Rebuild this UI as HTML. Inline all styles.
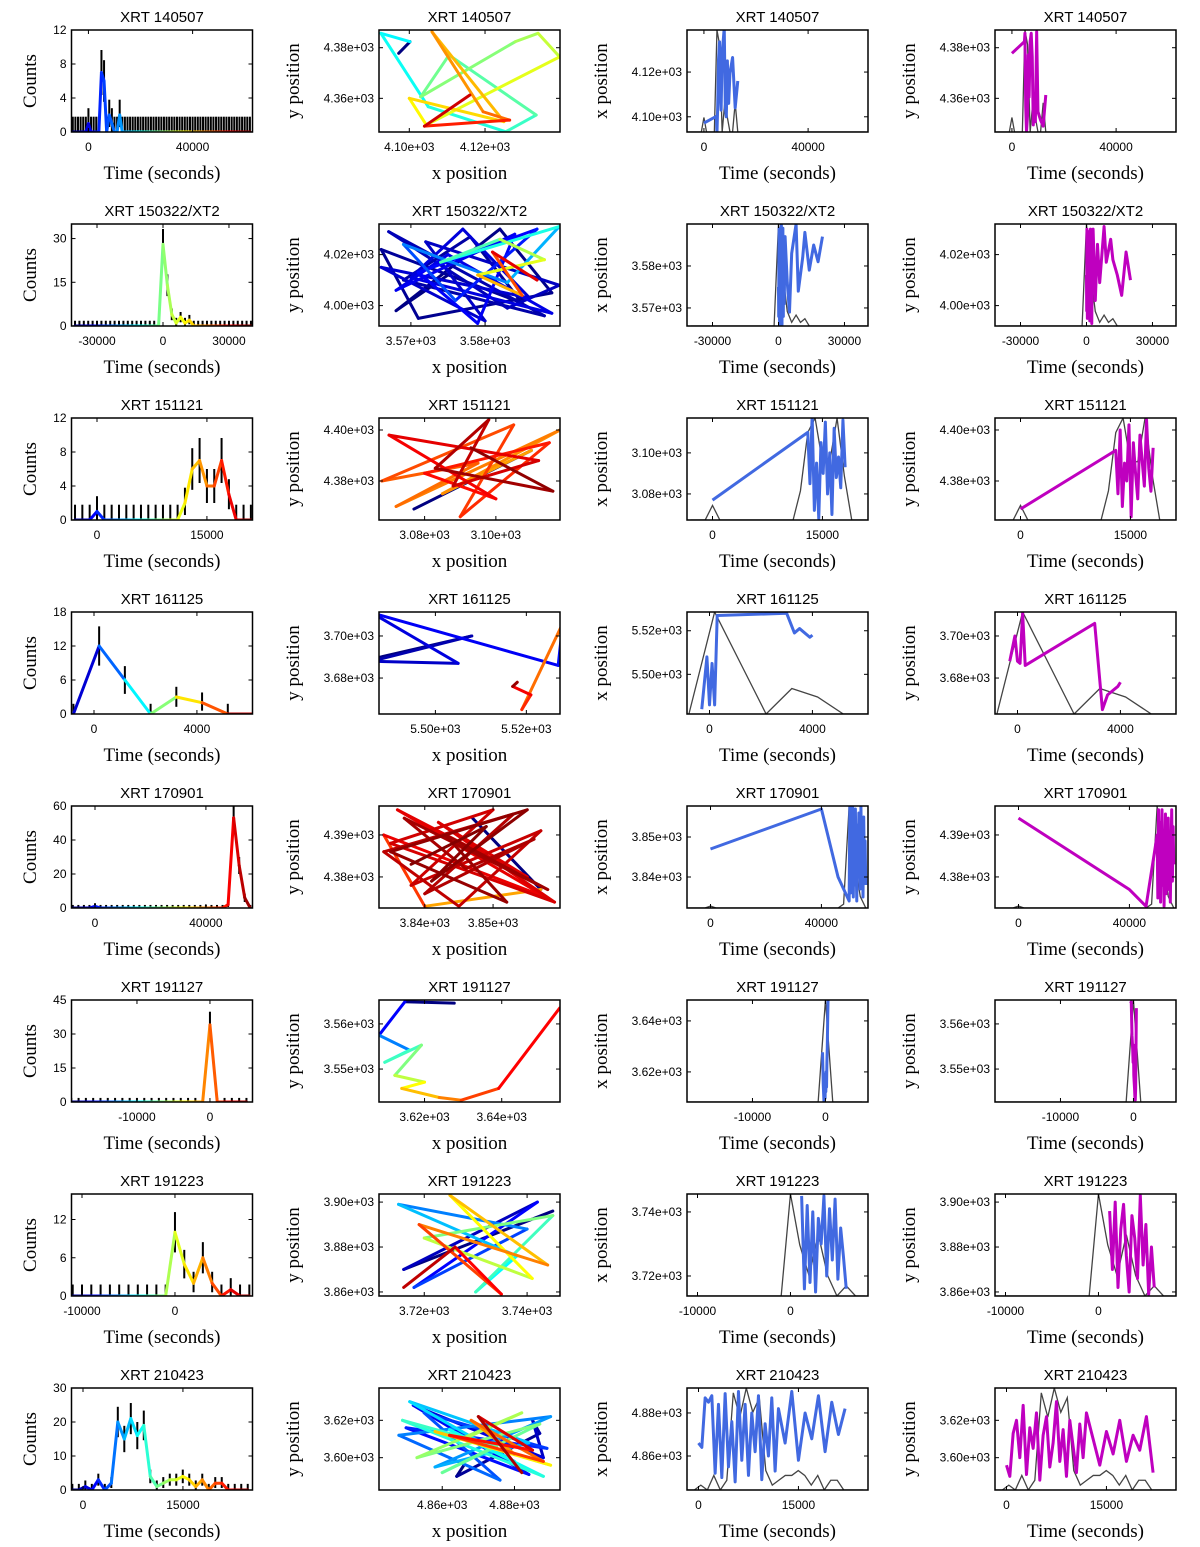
<!DOCTYPE html>
<html><head><meta charset="utf-8"><style>
html,body{margin:0;padding:0;background:#fff}
svg{display:block}
.t{font-family:"Liberation Sans",sans-serif}
.s{font-family:"Liberation Serif",serif}
</style></head><body>
<svg id="fig" width="1200" height="1547" viewBox="0 0 1200 1547" xmlns="http://www.w3.org/2000/svg"></svg>
<script>
// ---------- data ----------
const titles=["XRT 140507","XRT 150322/XT2","XRT 151121","XRT 161125","XRT 170901","XRT 191127","XRT 191223","XRT 210423"];
// light-curve bins: first bin centre, bin width
const lcStart=[-6000,-40000,-3000,-800,-8000,-19000,-11000,-1600];
const lcWidth=[1000,2000,1000,1000,2000,1000,1000,975];
const lcCounts1=[0,0,0,0,0,0,1,0,0,0, 0,7,6,0,2,1,0,0,2,0, 0,0,0,0,0,0,0,0,0,0, 0,0,0,0,0,0,0,0,0,0, 0,0,0,0,0,0,0,0,0,0, 0,0,0,0,0,0,0,0,0,0, 0,0,0,0,0,0,0,0,0];
const lcCounts2=[0,0,0,0,0,0,0,0,0,0, 0,0,0,0,0,0,0,0,0,0, 28,14,4,1,3,1,2,0,0,0, 0,0,0,0,0,0,0,0,0,0,0];
const lcCounts3=[0,0,0,1,0,0,0,0,0,0,0,0,0,0,0,2,6,7,4,4,7,3,0,0,0];
const lcCounts4=[0,12,6,0,3,2,0,0];
const lcCounts5=[0,0,0,0,1,0,0,0,0,0, 0,0,0,0,0,0,0,0,0,0, 0,0,0,0,0,0,0,0,2,53, 25,6,0];
const lcCounts6=[0,0,0,0,0,0,0,0,0,0,0,0,0,0,0,0,0,0,0,34,0,0,0,0,0];
const lcCounts7=[0,0,0,0,0,0,0,0,0,0,0,10,5,2,6,2,0,1,0,0];
const lcCounts8=[0,0,1,0,3,0,2,20,15,21,16,19,4,1,2,3,3,4,3,1,3,0,2,2,0,0,0,0];
const lcCounts=[lcCounts1,lcCounts2,lcCounts3,lcCounts4,lcCounts5,lcCounts6,lcCounts7,lcCounts8];
const lcXlim=[[-6500,63000],[-41600,40700],[-3480,21220],[-874,6160],[-8470,56800],[-18970,5830],[-11130,8340],[-1725,25440]];
const lcYmax=[12,35,12,18,60,45,16,30];
const lcXticks=[[0,40000],[-30000,0,30000],[0,15000],[0,4000],[0,40000],[-10000,0],[-10000,0],[0,15000]];
const lcYticks=[[0,4,8,12],[0,15,30],[0,4,8,12],[0,6,12,18],[0,20,40,60],[0,15,30,45],[0,6,12],[0,10,20,30]];

// source positions
const posT1=[0,4800,5000,5300,5600,6000,6300,6600,7000,7400,7800,8200,8600,9000,9500,10000,11000,12000,13000];
const posX1=[4097.2,4100.2,4092.5,4105,4125.5,4133.5,4110.5,4103,4128,4134,4139.7,4104.5,4100,4125,4106,4119.5,4126.5,4104,4116];
const posY1=[4377.8,4382.4,4385.7,4356.7,4346.8,4353.4,4377.1,4360.6,4382.4,4385.7,4376.4,4349.5,4360,4350.8,4386.3,4354.7,4351.4,4349,4361.3];
const posT2=[0,100,200,300,400,500,600,700,800,900,1000,1100,1200,1300,1400,1500,1600,1700,1800,1900,2000,2100,2200,2300,2400,2600,3000,4000,5000,6000,8000,9000,11000,12000,14000,16000,18000,20000];
const posX2=[3575,3568,3582,3589,3571,3566,3585,3578,3569,3588,3574,3567,3583,3590,3572,3580,3566,3586,3577,3570,3589,3575,3568,3584,3579,3571,3587,3576,3569,3583,3590,3574,3582,3588,3579,3585,3581,3587];
const posY2=[4012,3998,4030,4005,3995,4022,4001,4027,4010,3996,4018,4029,3999,4008,4025,3994,4015,4003,4030,4011,3997,4020,4006,4028,3993,4013,4030,4002,4024,4009,4031,4017,4026,4018,4012,4004,4021,4010];
const posT3=[0,13000,13300,13600,13900,14200,14500,14800,15100,15400,15700,16000,16300,16600,16900,17200,17500,17800,18100];
const posX3=[3077,3110,3085,3118,3072,3095,3068,3105,3090,3115,3080,3100,3070,3112,3088,3098,3083,3116,3093];
const posY3=[4369,4392,4375,4400,4370,4387,4380,4402,4366,4395,4383,4373,4398,4388,4378,4404,4385,4376,4393];
const posT4=[-300,-100,0,100,200,300,3000,3300,3500,3900,4000];
const posX4=[5484,5508,5486,5505,5486,5527,5528,5519,5521,5517,5518];
const posY4=[3688,3700,3688,3687,3711,3686,3706,3665,3672,3676,3678];
const posT5=[0,40000,46000,50000,50250,50500,50750,51000,51250,51500,51750,52000,52250,52500,52750,53000,53250,53500,53750,54000,54250,54500,54750,55000,55250,55500,55750,56000];
const posX5=[3847,3857,3840,3834,3858,3836,3855,3842,3859,3835,3850,3838,3857,3845,3834,3853,3840,3856,3846,3837,3858,3843,3852,3835,3855,3841,3849,3838];
const posY5=[4394,4377,4373,4390,4375,4396,4380,4393,4374,4388,4396,4378,4391,4373,4386,4395,4376,4389,4382,4394,4377,4390,4374,4386,4396,4379,4392,4383];
const posT6=[-400,-300,-200,-100,-50,0,50,100,150,200,250,300,400];
const posX6=[3627.7,3614.9,3608.2,3616.1,3609.7,3619.2,3612.3,3620,3614.1,3623.8,3629.5,3639.2,3655];
const posY6=[3564.6,3564.9,3557.5,3554.2,3551.5,3555.3,3548.6,3547.1,3545.7,3543.7,3543.1,3545.7,3563.5];
const posT7=[1200,1500,1800,2100,2400,2700,3000,3300,3600,3900,4200,4500,4800,5100,5400,5700,6000];
const posX7=[3745,3716,3742,3718,3740,3715,3738,3730,3745,3720,3741,3725,3744,3719,3735,3726,3716];
const posY7=[3896,3870,3900,3862,3888,3899,3876,3860,3894,3884,3866,3903,3872,3890,3859,3880,3862];
const posT8=[0,500,1000,1500,2000,2500,3000,3500,4000,4500,5000,5500,6000,6500,7000,7500,8000,8500,9000,9500,10000,10500,11000,11500,12000,13000,14000,15000,16000,17000,18000,19000,20000,21000,22000];
const posX8=[4866,4864,4887,4885,4888,4852,4884,4850,4889,4855,4876,4848,4890,4858,4884,4851,4880,4862,4888,4849,4875,4860,4887,4853,4882,4866,4890,4858,4880,4868,4888,4862,4885,4870,4882];
const posY8=[3596,3590,3613,3620,3600,3628,3591,3616,3605,3624,3588,3612,3622,3595,3608,3630,3598,3615,3590,3620,3606,3592,3618,3600,3624,3610,3596,3614,3602,3620,3598,3612,3604,3622,3592];
const posT=[posT1,posT2,posT3,posT4,posT5,posT6,posT7,posT8];
const posX=[posX1,posX2,posX3,posX4,posX5,posX6,posX7,posX8];
const posY=[posY1,posY2,posY3,posY4,posY5,posY6,posY7,posY8];
const pxLim=[[4092,4139.8],[3565.7,3590.1],[3067.2,3118],[5487.6,5527.4],[3833.3,3859.8],[3608.2,3655.1],[3711.2,3746.4],[4842.5,4892.6]];
const pxTicks=[[4100,4120],[3570,3580],[3080,3100],[5500,5520],[3840,3850],[3620,3640],[3720,3740],[4860,4880]];
const pyLim=[[4346.7,4387],[3992,4032],[4364.7,4404.7],[3662.9,3711.4],[4372.6,4396.9],[3542.7,3565.3],[3858.2,3903.6],[3582.7,3637.3]];
const pyTicks=[[4360,4380],[4000,4020],[4380,4400],[3680,3700],[4380,4390],[3550,3560],[3860,3880,3900],[3600,3620]];
const txLim=[[4093.2,4138.8],[3565.7,3590],[3067.3,3117],[5481.8,5528.6],[3832.25,3857.75],[3608.2,3648.2],[3713.75,3745.6],[4844.2,4891.6]];
const txTicks=[[4100,4120],[3570,3580],[3080,3100],[5500,5520],[3840,3850],[3620,3640],[3720,3740],[4860,4880]];

// ---------- drawing ----------
const NS="http://www.w3.org/2000/svg";
const fig=document.getElementById('fig');
const COLS=[71.5,379,687,995],PW=181,PH=102,TOP0=30,RS=194;
function el(tag,parent,attrs){const e=document.createElementNS(NS,tag);for(const k in attrs)e.setAttribute(k,attrs[k]);parent.appendChild(e);return e;}
function jet(v){v=Math.max(0,Math.min(1,v));const c=x=>Math.round(255*Math.max(0,Math.min(1,1.5-Math.abs(x))));return `rgb(${c(4*v-3)},${c(4*v-2)},${c(4*v-1)})`;}
function fmtE(v){return v.toExponential(2).replace(/e\+(\d)$/,'e+0$1');}
function lin(d0,d1,r0,r1){return v=>r0+(v-d0)/(d1-d0)*(r1-r0);}
let clipId=0;

function panel(r,c,xl,yl,xt,yt,xfmt,yfmt,ylab,name){
  const x0=COLS[c],y0=TOP0+r*RS;
  const g=el('g',fig,{});
  
  
  const X=lin(xl[0],xl[1],x0,x0+PW),Y=lin(yl[0],yl[1],y0+PH,y0);
  const id='c'+(clipId++);
  const cp=el('clipPath',g,{id:id});el('rect',cp,{x:x0,y:y0,width:PW,height:PH});
  const plot=el('g',g,{'clip-path':`url(#${id})`});
  
  
  const t=el('text',g,{x:x0+PW/2,y:y0-8,'text-anchor':'middle','font-size':'15',class:'t'});
  
  
  t.textContent=titles[r];
  xt.forEach(v=>{const px=X(v);
    el('line',g,{x1:px,x2:px,y1:y0+PH,y2:y0+PH-4,stroke:'#000','stroke-width':1});
    el('line',g,{x1:px,x2:px,y1:y0,y2:y0+4,stroke:'#000','stroke-width':1});
    const l=el('text',g,{x:px,y:y0+PH+19,'text-anchor':'middle','font-size':'12',class:'t'});
    
    
    l.textContent=xfmt(v);});
  yt.forEach(v=>{const py=Y(v);
    el('line',g,{x1:x0,x2:x0+4,y1:py,y2:py,stroke:'#000','stroke-width':1});
    el('line',g,{x1:x0+PW,x2:x0+PW-4,y1:py,y2:py,stroke:'#000','stroke-width':1});
    const l=el('text',g,{x:x0-5,y:py+4,'text-anchor':'end','font-size':'12',class:'t'});
    
    
    l.textContent=yfmt(v);});
  const xl2=el('text',g,{x:x0+PW/2,y:y0+PH+47,'text-anchor':'middle','font-size':'19',class:'s'});
  
  
  xl2.textContent=(c===1)?'x position':'Time (seconds)';
  const lx=[30,293,601,909][c],ly=y0+PH/2;
  const yl2=el('text',g,{x:lx,y:ly,'text-anchor':'middle','font-size':'19',class:'s',transform:`rotate(-90 ${lx} ${ly}) translate(0 6)`});
  
  
  yl2.textContent=ylab;
  return {g,plot,X,Y,x0,y0};
}
function frame(p){const b=el('rect',p.g,{x:p.x0,y:p.y0,width:PW,height:PH,fill:'none',stroke:'#000','stroke-width':1.5});
  
  }

for(let r=0;r<8;r++){
  const cnt=lcCounts[r],t0=lcStart[r],w=lcWidth[r];
  const bt=cnt.map((_,i)=>t0+i*w);
  const xl=lcXlim[r];
  // ---- light curve ----
  let p=panel(r,0,xl,[0,lcYmax[r]],lcXticks[r],lcYticks[r],v=>String(v),v=>String(v),'Counts','light-curve-'+(r+1));
  cnt.forEach((c,i)=>{const up=c>0?c+Math.max(Math.sqrt(c),1.8):1.8,lo=c>0?Math.max(0,c-Math.sqrt(c)):0;
    const e=el('line',p.plot,{x1:p.X(bt[i]),x2:p.X(bt[i]),y1:p.Y(lo),y2:p.Y(up),stroke:'#000','stroke-width':2});
    
    });
  for(let i=0;i<cnt.length-1;i++){
    const s=el('line',p.plot,{x1:p.X(bt[i]),y1:p.Y(cnt[i]),x2:p.X(bt[i+1]),y2:p.Y(cnt[i+1]),stroke:jet(((bt[i]+bt[i+1])/2-xl[0])/(xl[1]-xl[0])),'stroke-width':3,'stroke-linecap':'round'});
    
    }
  frame(p);
  // ---- position path ----
  const T=posT[r],PX=posX[r],PY=posY[r];
  const tmin=Math.min(...T),tmax=Math.max(...T);
  p=panel(r,1,pxLim[r],pyLim[r],pxTicks[r],pyTicks[r],fmtE,fmtE,'y position','position-path-'+(r+1));
  for(let i=0;i<T.length-1;i++){
    const s=el('line',p.plot,{x1:p.X(PX[i]),y1:p.Y(PY[i]),x2:p.X(PX[i+1]),y2:p.Y(PY[i+1]),stroke:jet((T[i]-tmin)/(tmax-tmin)),'stroke-width':3,'stroke-linecap':'round'});
    
    }
  frame(p);
  // ---- x vs time / y vs time ----
  [[2,PX,txLim[r],txTicks[r],'#4169e1','x position','x-vs-time-'],[3,PY,pyLim[r],pyTicks[r],'#bf00bf','y position','y-vs-time-']].forEach(([c,V,lim,tk,col,lab,nm])=>{
    const q=panel(r,c,xl,lim,lcXticks[r],tk,v=>String(v),fmtE,lab,nm+(r+1));
    const mx=Math.max(...cnt);
    const gp=el('polyline',q.plot,{points:bt.map((t,i)=>q.X(t)+','+q.Y(lim[0]+cnt[i]/mx*(lim[1]-lim[0]))).join(' '),fill:'none',stroke:'#444','stroke-width':1.3});
    
    
    const pl=el('polyline',q.plot,{points:T.map((t,i)=>q.X(t)+','+q.Y(V[i])).join(' '),fill:'none',stroke:col,'stroke-width':3,'stroke-linejoin':'round'});
    
    
    frame(q);
  });
}
</script>
</body></html>
